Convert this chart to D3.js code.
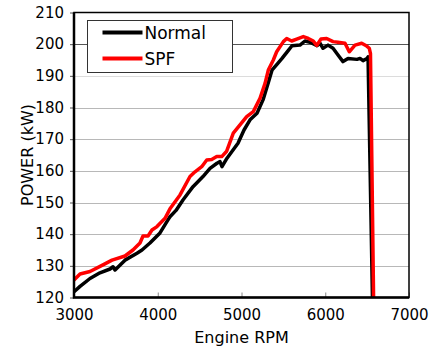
<!DOCTYPE html>
<html>
<head>
<meta charset="utf-8">
<script src="https://cdn.jsdelivr.net/npm/d3@7"></script>
<style>
  body { margin: 0; background: #fff; }
  svg { display: block; font-family: "DejaVu Sans", Verdana, sans-serif; }
</style>
</head>
<body>
<svg id="chart" width="440" height="352"></svg>
<script>
// values
const normalRpm = [3000, 3072, 3191, 3310, 3430, 3466, 3490, 3609, 3752, 3812, 3907, 4027, 4122, 4146, 4218, 4301, 4421, 4540, 4624, 4707, 4743, 4767, 4827, 4899, 4958, 5030, 5102, 5185, 5257, 5317, 5364, 5436, 5484, 5543, 5603, 5698, 5758, 5818, 5902, 5937, 5973, 6033, 6093, 6152, 6212, 6272, 6379, 6415, 6451, 6499, 6511, 6565];
const normalKw  = [121.8, 123.5, 126, 127.8, 129, 129.7, 128.7, 131.8, 134, 135, 137.2, 140.4, 144.5, 145.5, 147.5, 150.8, 155, 158.2, 160.8, 162.4, 162.9, 161.3, 164, 166.6, 168.7, 172.9, 176.1, 178.2, 182.4, 187.6, 191.8, 194, 195.5, 197.5, 199.5, 199.7, 201, 200.6, 199.5, 200.3, 198.7, 199.7, 198.7, 196.6, 194.5, 195.5, 195.2, 195.5, 194.8, 195.5, 196, 118];

const spfRpm = [3000, 3072, 3191, 3346, 3454, 3609, 3704, 3788, 3824, 3884, 3931, 3991, 4087, 4146, 4266, 4385, 4445, 4525, 4585, 4644, 4704, 4764, 4823, 4902, 4982, 5062, 5141, 5221, 5281, 5320, 5380, 5420, 5500, 5540, 5599, 5659, 5738, 5798, 5857, 5898, 5949, 6017, 6093, 6152, 6236, 6287, 6355, 6435, 6495, 6526, 6540, 6578];
const spfKw  = [125.5, 127.4, 128.2, 130.3, 131.8, 133.1, 135, 137.2, 139.4, 139.4, 141.3, 142.4, 145, 148, 152.4, 158.2, 159.7, 161.3, 163.4, 163.6, 164.5, 164.5, 166.2, 171.9, 174.5, 177.1, 178.7, 182.9, 187.6, 191.8, 195, 197.6, 200.8, 201.8, 201, 201.6, 202.4, 201.8, 201, 199.6, 201.6, 201.8, 200.8, 200.6, 200.3, 197.6, 199.7, 200.3, 199.4, 198.7, 197, 118];

const xTicks = [3000, 4000, 5000, 6000, 7000];
const yTicks = [120, 130, 140, 150, 160, 170, 180, 190, 200, 210];

const seriesNames = ["Normal", "SPF"];
const seriesColors = ["#000000", "#ff0000"];

const svg = d3.select("#chart");
const margin = {left: 74, right: 31, top: 12.5, bottom: 54.5};
const W = 440, H = 352;

const x = d3.scaleLinear().domain([3000, 7000]).range([margin.left, W - margin.right]);
const y = d3.scaleLinear().domain([120, 210]).range([H - margin.bottom, margin.top]);

svg.append("defs").append("clipPath").attr("id", "plot")
  .append("rect")
    .attr("x", x(3000)).attr("y", y(210))
    .attr("width", x(7000) - x(3000)).attr("height", y(120) - y(210));

// horizontal grid
svg.append("g")
  .selectAll("line")
  .data(yTicks.filter(d => d > 120 && d < 210))
  .join("line")
    .attr("x1", x(3000)).attr("x2", x(7000))
    .attr("y1", d => Math.round(y(d)) + 0.5).attr("y2", d => Math.round(y(d)) + 0.5)
    .attr("stroke", d => d === 200 ? "#555" : d === 190 ? "#dcdcdc" : "#b8b8b8")
    .attr("stroke-width", 1);

// y axis ticks + labels
const yAxis = svg.append("g")
  .attr("transform", `translate(${x(3000)},0)`)
  .call(d3.axisLeft(y).tickValues(yTicks).tickSize(4).tickPadding(6))
  .call(g => g.select(".domain").remove());
yAxis.selectAll(".tick line").attr("stroke", "#555");
yAxis.selectAll("text").attr("font-size", 15).attr("font-family", "DejaVu Sans").attr("fill", "#000");

// x axis ticks + labels
const xAxis = svg.append("g")
  .attr("transform", `translate(0,${y(120)})`)
  .call(d3.axisBottom(x).tickValues(xTicks).tickFormat(d3.format("d")).tickSize(-5).tickPadding(12))
  .call(g => g.select(".domain").remove());
xAxis.selectAll(".tick line").attr("stroke", "#888");
xAxis.selectAll("text").attr("font-size", 15).attr("font-family", "DejaVu Sans").attr("fill", "#000");

// data lines
const line = d3.line().x(d => x(d[0])).y(d => y(d[1]));
const lines = svg.append("g").attr("clip-path", "url(#plot)");
lines.append("path")
  .datum(d3.zip(normalRpm, normalKw))
  .attr("d", line)
  .attr("fill", "none")
  .attr("stroke", seriesColors[0])
  .attr("stroke-width", 3.5)
  .attr("stroke-linejoin", "round");
lines.append("path")
  .datum(d3.zip(spfRpm, spfKw))
  .attr("d", line)
  .attr("fill", "none")
  .attr("stroke", seriesColors[1])
  .attr("stroke-width", 3.5)
  .attr("stroke-linejoin", "round");

// frame
svg.append("rect")
  .attr("x", x(3000)).attr("y", y(210))
  .attr("width", x(7000) - x(3000)).attr("height", y(120) - y(210))
  .attr("fill", "none").attr("stroke", "#000").attr("stroke-width", 1.5);
svg.append("path")
  .attr("d", `M${x(3000)},${y(210)}V${y(120)}H${x(7000)}`)
  .attr("fill", "none").attr("stroke", "#000").attr("stroke-width", 2.5);

// legend
const legend = svg.append("g").attr("transform", "translate(87.5,20.5)");
legend.append("rect")
  .attr("width", 145).attr("height", 52)
  .attr("fill", "#fff").attr("stroke", "#333").attr("stroke-width", 1);
seriesNames.forEach((name, i) => {
  const ly = 12 + i * 26;
  legend.append("line")
    .attr("x1", 15).attr("x2", 55).attr("y1", ly).attr("y2", ly)
    .attr("stroke", seriesColors[i]).attr("stroke-width", 4);
  legend.append("text")
    .attr("x", 57).attr("y", ly + 6)
    .attr("font-size", 17)
    .text(name);
});

// axis titles
svg.append("text")
  .attr("x", (x(3000) + x(7000)) / 2).attr("y", 343)
  .attr("text-anchor", "middle").attr("font-size", 16)
  .text("Engine RPM");
svg.append("text")
  .attr("transform", `translate(33,${(y(120) + y(210)) / 2}) rotate(-90)`)
  .attr("text-anchor", "middle").attr("font-size", 16)
  .text("POWER (kW)");
</script>
</body>
</html>
